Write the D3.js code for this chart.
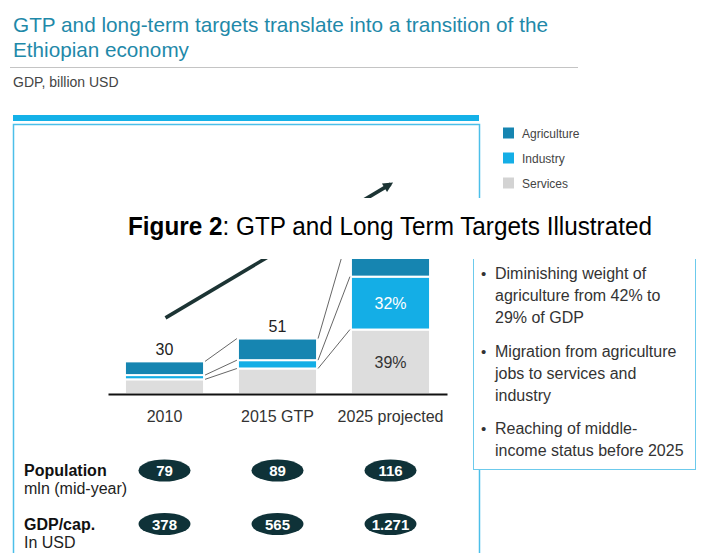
<!DOCTYPE html>
<html>
<head>
<meta charset="utf-8">
<script src="https://cdn.jsdelivr.net/npm/d3@7"></script>
<style>
body { margin: 0; background: #fff; }
text { font-family: "Liberation Sans", Arial, Helvetica, sans-serif; }
</style>
</head>
<body>
<script>
// chart values
let years = ["2010", "2015 GTP", "2025 projected"];
let gdpTotal = [30, 51, 152];          // billion USD
let agriShare = [42, 39, 29];          // % of GDP
let indShare = [13, 15, 32];
let servShare = [45, 46, 39];
let sectors = ["Agriculture", "Industry", "Services"];
let population = ["79", "89", "116"];  // mln (mid-year)
let gdpPerCap = ["378", "565", "1.271"];
let bullets = [
	["Diminishing weight of", "agriculture from 42% to", "29% of GDP"],
	["Migration from agriculture", "jobs to services and", "industry"],
	["Reaching of middle-", "income status before 2025"]
];
let growthArrow = [70, 193];           // arrow start / end, billion USD

window.onload = function(){(function(){

let W = 704, H = 553;
let band = { top: 198, bottom: 259 };  // caption strip laid over the chart
let col = {
	Agriculture: "#1685b1",
	Industry: "#14aee6",
	Services: "#dddddd"
};

let svg = d3.select("body").append("svg")
	.attr("width", W)
	.attr("height", H);

let rows = years.map(function(yr, i){
	return {
		year: yr,
		total: gdpTotal[i],
		Agriculture: gdpTotal[i] * agriShare[i] / 100,
		Industry: gdpTotal[i] * indShare[i] / 100,
		Services: gdpTotal[i] * servShare[i] / 100,
		shares: { Agriculture: agriShare[i], Industry: indShare[i], Services: servShare[i] }
	};
});
let stack = d3.stack().keys(["Services", "Industry", "Agriculture"])(rows);

let x = d3.scaleBand().domain(years).range([108, 447]).paddingInner(0.3).paddingOuter(0.15);
let y = d3.scaleLinear().domain([0, 160]).range([394, 220]);
let bw = x.bandwidth();

// ---- header
svg.append("text").attr("x", 13).attr("y", 32)
	.attr("font-size", 20.7).attr("fill", "#1f89a9")
	.attr("textLength", 535).attr("lengthAdjust", "spacingAndGlyphs")
	.text("GTP and long-term targets translate into a transition of the");
svg.append("text").attr("x", 13).attr("y", 57)
	.attr("font-size", 20.7).attr("fill", "#1f89a9")
	.text("Ethiopian economy");
svg.append("line").attr("x1", 10).attr("x2", 578).attr("y1", 67.5).attr("y2", 67.5)
	.attr("stroke", "#c4c4c4").attr("stroke-width", 1);
svg.append("text").attr("x", 13).attr("y", 87)
	.attr("font-size", 14).attr("fill", "#444")
	.text("GDP, billion USD");

// ---- frame
svg.append("rect").attr("x", 13).attr("y", 115).attr("width", 466).attr("height", 6)
	.attr("fill", "#14b1e8");
svg.append("path").attr("d", "M13.5,553V124.5H479.5V553")
	.attr("fill", "none").attr("stroke", "#4cbfe9").attr("stroke-width", 1.5);

// ---- legend
let leg = svg.append("g");
sectors.forEach(function(s, i){
	leg.append("rect").attr("x", 503).attr("y", 127.5 + i * 25).attr("width", 11).attr("height", 11)
		.attr("fill", s == "Services" ? "#d3d3d3" : col[s]);
	leg.append("text").attr("x", 522).attr("y", 137.5 + i * 25)
		.attr("font-size", 12).attr("fill", "#444").text(s);
});

// ---- growth arrow
svg.append("defs").append("marker")
	.attr("id", "head").attr("viewBox", "0 0 10 10")
	.attr("refX", 7).attr("refY", 5)
	.attr("markerUnits", "userSpaceOnUse")
	.attr("markerWidth", 12).attr("markerHeight", 10)
	.attr("orient", "auto")
	.append("path").attr("d", "M0,0L10,5L0,10z").attr("fill", "#1c3434");

svg.append("line")
	.attr("x1", x(years[0]) + bw / 2 + 1).attr("y1", y(growthArrow[0]))
	.attr("x2", x(years[2]) + bw / 2).attr("y2", y(growthArrow[1]))
	.attr("stroke", "#1c3434").attr("stroke-width", 3.6)
	.attr("marker-end", "url(#head)");

// ---- bars
let layer = svg.append("g").selectAll("g")
	.data(stack).enter().append("g")
	.attr("fill", function(d){ return col[d.key]; });

layer.selectAll("rect")
	.data(function(d){ return d; }).enter().append("rect")
	.attr("x", function(d){ return x(d.data.year); })
	.attr("y", function(d){ return y(d[1]); })
	.attr("width", bw)
	.attr("height", function(d){ return y(d[0]) - y(d[1]); })
	.attr("stroke", "#fff").attr("stroke-width", 2);

// connectors between bars
let conn = svg.append("g").attr("stroke", "#555").attr("stroke-width", 0.9);
stack.forEach(function(s){
	for (let i = 0; i < years.length - 1; i++) {
		conn.append("line")
			.attr("x1", x(years[i]) + bw + 1).attr("y1", y(s[i][1]))
			.attr("x2", x(years[i + 1]) - 1).attr("y2", y(s[i + 1][1]));
	}
});

// totals (the ones under the caption strip are not visible in the source)
svg.append("g").selectAll("text")
	.data(rows.filter(function(d){ return y(d.total) - 6.5 > band.bottom + 12; }))
	.enter().append("text")
	.attr("x", function(d){ return x(d.year) + bw / 2; })
	.attr("y", function(d){ return y(d.total) - 6.5; })
	.attr("text-anchor", "middle").attr("font-size", 16).attr("fill", "#222")
	.text(function(d){ return d.total; });

// shares in the projected bar
let last = years.length - 1;
let shareY = function(s){ return (y(s[last][0]) + y(s[last][1])) / 2 + 6; };
svg.append("g").selectAll("text")
	.data(stack.filter(function(s){ return shareY(s) > band.bottom + 12; }))
	.enter().append("text")
	.attr("x", x(years[last]) + bw / 2)
	.attr("y", shareY)
	.attr("text-anchor", "middle").attr("font-size", 16)
	.attr("fill", function(s){ return s.key == "Services" ? "#333" : "#fff"; })
	.text(function(s){ return rows[last].shares[s.key] + "%"; });

// axis
let xAxis = svg.append("g").attr("transform", "translate(0,394)")
	.call(d3.axisBottom(x).tickSize(0).tickSizeOuter(0));
xAxis.select(".domain").attr("stroke", "#111").attr("stroke-width", 2.2);
xAxis.selectAll("text").attr("y", 0).attr("dy", 28)
	.attr("font-size", 16).attr("fill", "#333");

// ---- population / GDP per capita
let stats = [
	{ title: "Population", sub: "mln (mid-year)", vals: population, cy: 470.5 },
	{ title: "GDP/cap.", sub: "In USD", vals: gdpPerCap, cy: 524 }
];
stats.forEach(function(r){
	svg.append("text").attr("x", 24).attr("y", r.cy + 5.5)
		.attr("font-size", 16).attr("font-weight", "bold").attr("fill", "#111").text(r.title);
	svg.append("text").attr("x", 24).attr("y", r.cy + 23.5)
		.attr("font-size", 16).attr("fill", "#222").text(r.sub);
	let pill = svg.append("g").selectAll("g")
		.data(r.vals).enter().append("g")
		.attr("transform", function(d, i){ return "translate(" + (x(years[i]) + bw / 2) + "," + r.cy + ")"; });
	pill.append("ellipse").attr("rx", 26).attr("ry", 11).attr("fill", "#0f3238");
	pill.append("text").attr("y", 5.5).attr("text-anchor", "middle")
		.attr("font-size", 15).attr("font-weight", "bold").attr("fill", "#fff")
		.text(function(d){ return d; });
});

// ---- bullet box
svg.append("rect").attr("x", 473.5).attr("y", 240.5).attr("width", 222).attr("height", 229)
	.attr("fill", "#fff").attr("stroke", "#6ccaec").attr("stroke-width", 1);
let by = [279, 357, 434];
bullets.forEach(function(lines, k){
	svg.append("text").attr("x", 481).attr("y", by[k])
		.attr("font-size", 15).attr("fill", "#333").text("\u2022");
	lines.forEach(function(l, j){
		svg.append("text").attr("x", 495).attr("y", by[k] + j * 22)
			.attr("font-size", 16).attr("fill", "#333").text(l);
	});
});

// ---- figure caption strip
svg.append("rect").attr("x", 16).attr("y", band.top).attr("width", W - 16).attr("height", band.bottom - band.top)
	.attr("fill", "#fff");
let cap = svg.append("text").attr("x", 128).attr("y", 235)
	.attr("font-size", 25).attr("fill", "#000")
	.attr("textLength", 524).attr("lengthAdjust", "spacingAndGlyphs");
cap.append("tspan").attr("font-weight", "bold").text("Figure 2");
cap.append("tspan").text(": GTP and Long Term Targets Illustrated");

})()}
</script>
</body>
</html>
